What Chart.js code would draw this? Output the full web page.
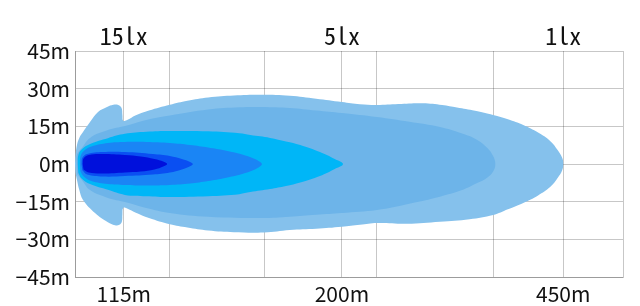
<!DOCTYPE html>
<html>
<head>
<meta charset="utf-8">
<script src="https://cdn.jsdelivr.net/npm/chart.js@4.4.0/dist/chart.umd.min.js"></script>
<style>
  html, body { margin: 0; padding: 0; background: #fff; }
  #wrap { width: 640px; height: 306px; }
</style>
</head>
<body>
<div id="wrap"><canvas id="beamChart"></canvas></div>
<script>
// x is a schematic distance axis (0-100 across the plot), y is beam width in metres
const gridX = [0, 8.9, 17.2, 34.5, 48.7, 55.1, 76.3, 89.1, 100];
const distLabels = { 8.9: '115m', 48.7: '200m', 89.1: '450m' };
const luxLabels = ['15lx', '5lx', '1lx'];
const luxPos = [8.9, 48.7, 89.1];
const widthTicks = [-45, -30, -15, 0, 15, 30, 45];

// isolux zones, outline points [distance, width]
const zone1lx = [[0,0],[0.1,3.5],[0.36,7.6],[0.8,10.5],[1.46,12.7],[2.74,16.7],[4.2,20.7],[5.84,22.7],[7.0,23.6],
  [7.9,23.5],[8.5,22.3],[8.65,19.5],[8.8,17.2],[9.6,17.6],[11,19.3],[13.5,21.3],[17.3,23.6],[20.5,25.2],
  [24.3,26.5],[29,27.3],[34.1,27.6],[39.2,27.2],[44,26],[48.7,24.7],[52,23.8],[55.1,23.5],[59,23.9],
  [63.5,24.2],[67,23.5],[69.7,22.5],[73,21.2],[76.3,19.5],[79,17.8],[81.8,15.5],[84.5,12.5],[86.7,9.2],
  [88.1,5.5],[88.9,2.5],[89.1,0],[88.9,-2.5],[88.1,-5.5],[86.7,-9.2],[84.5,-12.5],[81.8,-15.5],[79,-18],
  [76.3,-20.3],[72,-22],[66.6,-23],[60.6,-23.8],[55.1,-23.5],[52,-24.2],[48.7,-25],[44,-25.8],[39.2,-26.3],
  [34.5,-27.3],[29,-27.2],[24.3,-26.5],[20.5,-25.3],[17.3,-24],[13.5,-21.5],[11,-19.3],[9.6,-17.8],
  [8.8,-17.5],[8.65,-20],[8.55,-23],[8.1,-24.2],[7.3,-24.4],[6,-23.2],[3.65,-19.5],[1.46,-14.3],
  [0.8,-10.5],[0.36,-6.4],[0.1,-3.5]];
const zoneBand = [[0.3,0],[0.4,4],[1.28,6.5],[2.74,10.4],[6.0,13.5],[9.1,15.1],[13,17.5],[17.3,19.3],
  [24.3,21.7],[30,22.6],[34.1,22.7],[39.2,22.3],[44,21.3],[48.7,20.3],[55.1,18.7],[61,16.8],[66.6,14.7],
  [70.5,12.2],[73.4,9.6],[75.2,6.5],[76.3,3.2],[76.7,0],[76.3,-3],[75.2,-5.5],[73.4,-7.6],[70.5,-10.5],
  [66.6,-13],[61,-15.8],[55.1,-18.3],[48.7,-19.5],[44,-20.2],[39.2,-21],[34.1,-21.5],[24.3,-21],
  [17.3,-19.5],[13,-17.5],[9.1,-15.1],[6,-13.5],[2.74,-10.4],[1.28,-6.5],[0.4,-4]];
const zone5lx = [[0.5,0],[0.6,3.5],[1.2,5.8],[2.74,8],[6,10.3],[9.1,12],[13,12.8],[17.3,13.1],[24.3,13],
  [30,12.2],[32,11.5],[35.6,10.4],[38.5,9],[41.1,7.6],[44.7,4.8],[47.4,2],[48.9,0],[47.4,-2],[44.7,-4.8],
  [41.1,-7.4],[38.5,-8.8],[35.6,-10],[32,-11.2],[30,-12],[24.3,-12.8],[17.3,-13.1],[13,-12.8],[9.1,-12.3],
  [6,-10.3],[2.74,-8],[1.2,-5.8],[0.6,-3.5]];
const zoneMid = [[0.9,0],[1.0,3],[1.6,5.2],[3,7],[6,8.4],[9.1,8.8],[13,8.8],[17.3,8.4],[21,7.6],[24.3,6.6],
  [27.4,5.4],[30.5,3.8],[32.6,2.2],[33.8,0.8],[34.1,0],[33.8,-0.9],[32.6,-2.4],[30.5,-4],[27.4,-5.6],
  [24.3,-6.8],[21,-7.8],[17.3,-8.4],[13,-8.6],[9.1,-8.4],[6,-8],[3,-6.8],[1.6,-5],[1.0,-3]];
const zone15lx = [[1.2,0],[1.35,2.5],[2.2,4],[5.1,4.8],[9.1,4.8],[14.2,4],[17.3,3.2],[19.5,2],[21,0.8],
  [21.5,0],[21,-0.9],[19.5,-2.2],[17.3,-3.4],[14.2,-4.2],[9.1,-4.8],[5.1,-5],[2.2,-4.2],[1.35,-2.5]];
const zoneCore = [[1.4,0],[1.55,2.2],[2.5,3.6],[5.1,4],[9.1,3.6],[12,3],[14.5,2],[16.2,0.9],[16.8,0],
  [16.2,-0.9],[14.5,-2.2],[12,-3],[9.1,-3.4],[5.1,-3.8],[2.5,-3.4],[1.55,-2.2]];

const zones = [zone1lx, zoneBand, zone5lx, zoneMid, zone15lx, zoneCore];
const zoneColors = ['#85c1ec', '#6db4e9', '#00b6f7', '#1a85f5', '#0a4ff2', '#0010dc'];

const gridColor = 'rgba(0,0,0,0.22)';
Chart.defaults.font.family = '"Noto Sans CJK SC", sans-serif';
Chart.defaults.color = '#111';

const luxLabelPlugin = {
  id: 'luxLabels',
  afterDraw(chart) {
    const { ctx, chartArea } = chart;
    const x = chart.scales.x;
    ctx.save();
    ctx.font = '24px "Noto Sans Mono CJK SC", "DejaVu Sans Mono", monospace';
    ctx.fillStyle = '#111';
    ctx.textAlign = 'center';
    ctx.textBaseline = 'alphabetic';
    luxLabels.forEach((t, i) => {
      ctx.fillText(t, x.getPixelForValue(luxPos[i]), chartArea.top - 6);
    });
    ctx.restore();
  }
};

const ctx = document.getElementById('beamChart').getContext('2d');
const beamChart = new Chart(ctx, {
  type: 'scatter',
  data: {
    datasets: zones.map((z, i) => ({
      data: z.map(p => ({ x: p[0], y: p[1] })),
      showLine: true,
      fill: 'shape',
      backgroundColor: zoneColors[i],
      borderWidth: 0,
      pointRadius: 0,
      tension: 0.4,
      order: zones.length - i
    }))
  },
  options: {
    responsive: true,
    maintainAspectRatio: false,
    animation: false,
    layout: { padding: { top: 51, right: 17, left: 0, bottom: 0 } },
    plugins: { legend: { display: false }, tooltip: { enabled: false } },
    scales: {
      x: {
        type: 'linear',
        min: 0,
        max: 100,
        z: 1,
        afterBuildTicks: s => { s.ticks = gridX.map(v => ({ value: v })); },
        afterFit: s => { s.height = 29; },
        grid: { color: gridColor, drawTicks: false },
        border: { color: gridColor },
        ticks: {
          autoSkip: false,
          maxRotation: 0,
          padding: 4,
          font: { size: 21 },
          callback: v => distLabels[v] || ''
        }
      },
      y: {
        min: -45,
        max: 45,
        z: 1,
        afterBuildTicks: s => { s.ticks = widthTicks.map(v => ({ value: v })); },
        afterFit: s => { s.width = 75; },
        grid: { color: gridColor, drawTicks: false },
        border: { color: gridColor },
        ticks: {
          padding: 5,
          font: { size: 21 },
          callback: v => (v < 0 ? '\u2212' + Math.abs(v) : v) + 'm'
        }
      }
    }
  },
  plugins: [luxLabelPlugin]
});
</script>
</body>
</html>
